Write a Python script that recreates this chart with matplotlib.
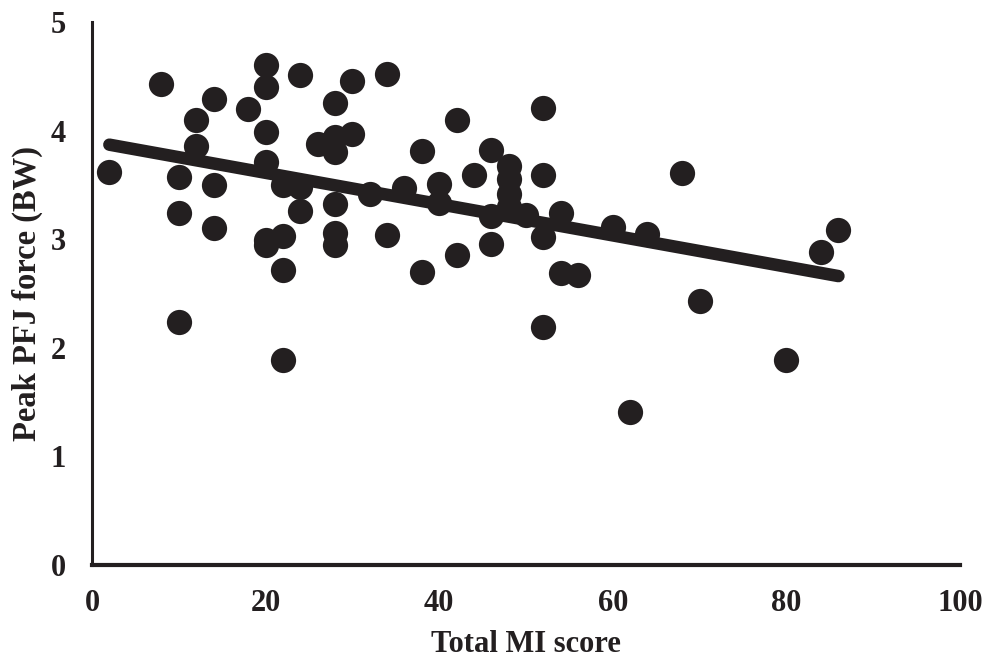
import numpy as np
import matplotlib
matplotlib.use("Agg")
import matplotlib.pyplot as plt

# values
mi_score = [2, 8, 10, 10, 10, 12, 12, 14, 14, 14, 18, 20, 20, 20, 20, 20, 20,
            22, 22, 22, 22, 24, 24, 24, 26, 28, 28, 28, 28, 28, 28, 30, 30,
            32, 34, 34, 36, 38, 38, 40, 40, 42, 42, 44, 46, 46, 46, 48, 48,
            48, 48, 50, 52, 52, 52, 52, 54, 54, 56, 60, 62, 64, 68, 70, 80,
            84, 86]
pfj_force = [3.62, 4.43, 3.57, 3.24, 2.24, 4.10, 3.86, 4.29, 3.50, 3.10, 4.20,
             4.60, 4.40, 3.99, 3.71, 2.99, 2.95, 3.50, 3.03, 2.72, 1.89, 4.51,
             3.48, 3.26, 3.88, 4.25, 3.94, 3.80, 3.32, 3.06, 2.95, 4.46, 3.97,
             3.42, 4.52, 3.04, 3.47, 3.81, 2.70, 3.51, 3.33, 4.10, 2.85, 3.59,
             3.82, 3.21, 2.96, 3.67, 3.55, 3.42, 3.30, 3.22, 4.21, 3.59, 3.02,
             2.19, 3.24, 2.69, 2.67, 3.11, 1.41, 3.05, 3.61, 2.43, 1.89, 2.88,
             3.08]

# trend line as drawn in the reference
trend_x = [2, 86]
trend_y = [3.87, 2.66]

xticks = [0, 20, 40, 60, 80, 100]
yticks = [0, 1, 2, 3, 4, 5]

ink = '#231f20'
plt.rcParams['font.family'] = ['Liberation Serif', 'DejaVu Serif']
plt.rcParams['font.weight'] = 'bold'

fig = plt.figure(figsize=(9.86, 6.65), dpi=100)
ax = fig.add_axes([0.0933, 0.1504, 0.8803, 0.8166])

ax.scatter(mi_score, pfj_force, s=330, color=ink, linewidths=0, zorder=3)
ax.plot(trend_x, trend_y, color=ink, lw=9, solid_capstyle='round', zorder=4)

ax.set_xlim(0, 100)
ax.set_ylim(0, 5)
ax.set_xticks(xticks)
ax.set_yticks(yticks)
ax.tick_params(axis='x', length=0, pad=17, labelsize=22, colors=ink)
ax.tick_params(axis='y', length=0, pad=19, labelsize=22, colors=ink)
for lab in ax.get_xticklabels() + ax.get_yticklabels():
    lab.set_fontweight('bold')

ax.spines['top'].set_visible(False)
ax.spines['right'].set_visible(False)
ax.spines['bottom'].set_linewidth(3)
ax.spines['left'].set_linewidth(2.2)
ax.spines['bottom'].set_color(ink)
ax.spines['left'].set_color(ink)

ax.set_xlabel('Total MI score', fontsize=22, fontweight='bold', color=ink, labelpad=9)
ax.set_ylabel('Peak PFJ force (BW)', fontsize=23.5, fontweight='bold', color=ink, labelpad=5)

fig.savefig('out.png', dpi=100)
